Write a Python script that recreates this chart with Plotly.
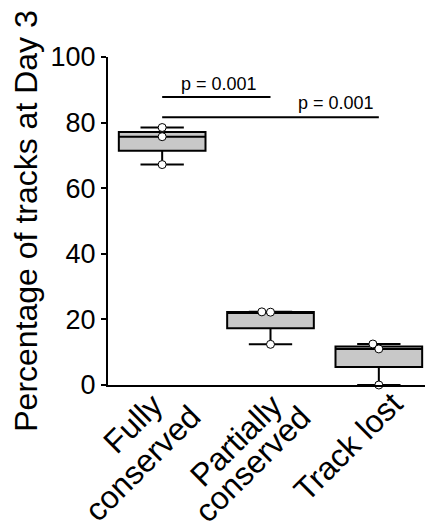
import plotly.graph_objects as go

categories = ["Fully<br>conserved", "Partially<br>conserved", "Track lost"]
fully = [78.5, 75.7, 67.2]
partially = [22.3, 22.2, 12.4]
lost = [12.5, 11.0, 0.0]
series = [fully, partially, lost]
# horizontal offsets (in category units) for overlapping points
offsets = [[0, 0, 0], [-0.08, 0, 0], [-0.055, 0, 0]]
y_ticks = [0, 20, 40, 60, 80, 100]
comparisons = [(0, 1, 87.8, "p = 0.001", 0.52, 91.8), (0, 2, 81.6, "p = 0.001", 1.60, 86.0)]

# placement of each rotated label line: (dx from category, y in paper units)
label_pos = [[(-0.265, -0.116), (-0.177, -0.239)],
             [(-0.314, -0.168), (-0.162, -0.242)],
             [(-0.289, -0.1875)]]

FONT = "Liberation Sans, Arial, sans-serif"
fig = go.Figure()
for i, vals in enumerate(series):
    fig.add_trace(go.Box(
        x=[i] * len(vals), y=vals, boxpoints=False, quartilemethod="inclusive",
        fillcolor="#c8c8c8", line=dict(color="black", width=2),
        whiskerwidth=0.5, width=0.8, showlegend=False, hoverinfo="skip"))
for i, vals in enumerate(series):
    fig.add_trace(go.Scatter(
        x=[i + o for o in offsets[i]], y=vals, mode="markers",
        marker=dict(size=8, color="white", line=dict(color="black", width=1)),
        showlegend=False, hoverinfo="skip", cliponaxis=False))

for a, b, yl, txt, tx, ty in comparisons:
    fig.add_shape(type="line", x0=a, x1=b, y0=yl, y1=yl, xref="x", yref="y",
                  line=dict(color="black", width=2))
    fig.add_annotation(x=tx, y=ty, text=txt, showarrow=False, xref="x", yref="y",
                       font=dict(size=18, color="black", family=FONT))

for i, cat in enumerate(categories):
    for line, (dx, py) in zip(cat.split("<br>"), label_pos[i]):
        fig.add_annotation(x=i + dx, y=py, xref="x", yref="paper", text=line,
                           showarrow=False, textangle=-45, xanchor="center", yanchor="middle",
                           font=dict(size=32, color="black", family=FONT))

fig.update_layout(
    width=425, height=516,
    margin=dict(l=100, r=0, t=49, b=139),
    plot_bgcolor="white", paper_bgcolor="white",
    font=dict(family=FONT, color="black", size=27),
    xaxis=dict(range=[-0.5, 2.5], tickvals=[0, 1, 2], ticktext=categories,
               showticklabels=False, showline=True, linecolor="black", linewidth=2,
               showgrid=False, zeroline=False, ticks="", automargin=False),
    yaxis=dict(range=[0, 100], tickvals=y_ticks, showline=True, linecolor="black",
               linewidth=2, showgrid=False, zeroline=False, ticks="outside",
               ticklen=5, tickwidth=2, tickcolor="black", automargin=False,
               tickfont=dict(size=27),
               title=dict(text="Percentage of tracks at Day 3", font=dict(size=32), standoff=4)),
)
fig.write_html("out.html")
